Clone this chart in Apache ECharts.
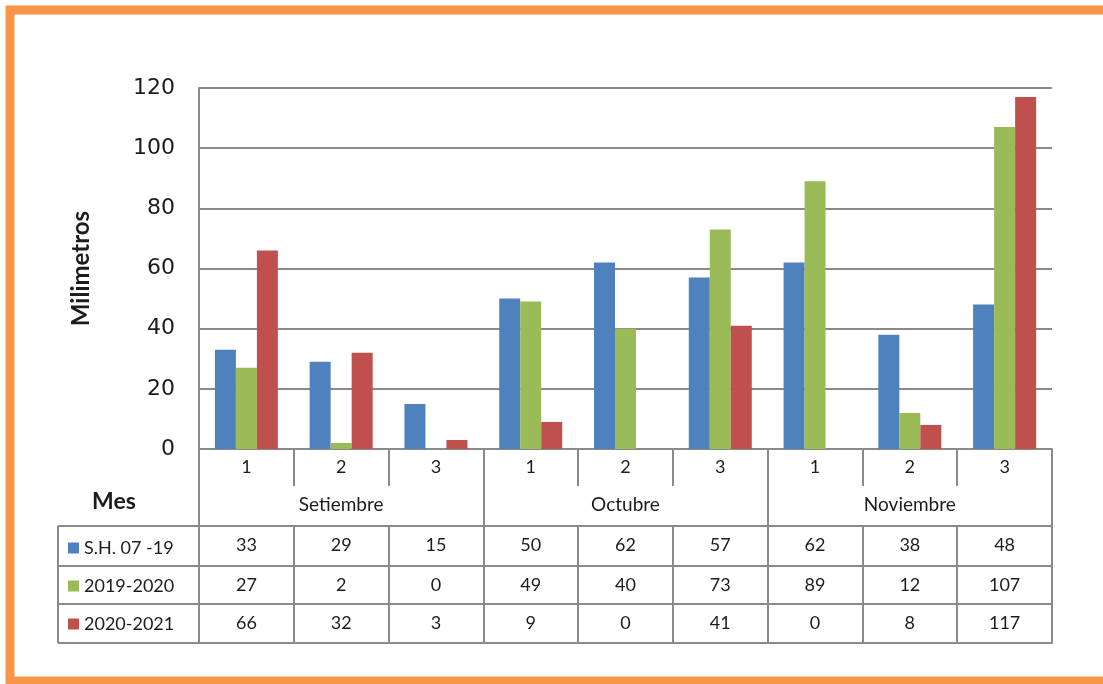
<!DOCTYPE html>
<html>
<head>
<meta charset="utf-8">
<script src="https://cdn.jsdelivr.net/npm/echarts@6/dist/echarts.min.js"></script>
<style>
html,body{margin:0;padding:0;background:#fff}
#main{width:1103px;height:684px}
</style>
</head>
<body>
<div id="main"></div>
<script>
// datos
var semanas=['1','2','3','1','2','3','1','2','3'];
var meses=['Setiembre','Octubre','Noviembre'];
var nombres=['S.H. 07 -19','2019-2020','2020-2021'];
var serieSH=[33,29,15,50,62,57,62,38,48];
var serie2019=[27,2,0,49,40,73,89,12,107];
var serie2020=[66,32,3,9,0,41,0,8,117];
var ticksY=[0,20,40,60,80,100,120];

var colores=['#4F81BD','#9BBB59','#C0504D'];
var filas=[serieSH,serie2019,serie2020];
var lineaGris='#8a8a8a';
var texto='#1c1c1c';

// tabla bajo el eje: cada fila es un eje x con offset
var gridLeft=199, gridRight=51, gridTop=88, gridBottom=235;
var yEje=684-gridBottom;
var offsets=[77,117,155,194];

function ejeTabla(off,tickLen,fila,margen){
    return {
        type:'category',data:semanas,position:'bottom',offset:off,
        axisLine:{show:true,lineStyle:{color:lineaGris,width:2}},
        axisTick:{show:tickLen>0,length:tickLen,interval:0,lineStyle:{color:lineaGris,width:2}},
        axisLabel:{show:!!fila,interval:0,margin:margen,color:texto,fontSize:18,fontFamily:'Lato',
            formatter:function(v,i){return fila?String(fila[i]):'';}},
        splitLine:{show:false}
    };
}

var xAxes=[
    {
        type:'category',data:semanas,position:'bottom',
        axisLine:{show:true,lineStyle:{color:lineaGris,width:2}},
        axisTick:{show:true,length:37,interval:0,lineStyle:{color:lineaGris,width:2}},
        axisLabel:{interval:0,margin:9,color:texto,fontSize:18,fontFamily:'Lato'}
    },
    {
        type:'category',data:semanas,position:'bottom',
        axisLine:{show:false},
        axisTick:{show:true,length:77,lineStyle:{color:lineaGris,width:2},
            interval:function(i){return i%3===0;}},
        axisLabel:{margin:46,color:texto,fontSize:19,fontFamily:'Lato',
            interval:function(i){return i%3===1;},
            formatter:function(v,i){return meses[Math.floor(i/3)];}}
    },
    ejeTabla(offsets[0],40,filas[0],10),
    ejeTabla(offsets[1],38,filas[1],10),
    ejeTabla(offsets[2],39,filas[2],10),
    ejeTabla(offsets[3],0,null,10)
];

var series=[];
for(var k=0;k<3;k++){
    series.push({
        name:nombres[k],type:'bar',data:filas[k],xAxisIndex:0,
        barWidth:21,barGap:'0%',
        itemStyle:{color:colores[k]}
    });
}

// lineas de la columna de leyenda
var izq=58;
var graficos=[{
    type:'rect',shape:{x:10,y:10,width:1100,height:671},
    style:{fill:'none',stroke:'#F79646',lineWidth:9},silent:true
},{
    type:'line',shape:{x1:izq,y1:yEje+offsets[0],x2:izq,y2:yEje+offsets[3]},
    style:{stroke:lineaGris,lineWidth:2}
},{
    type:'text',x:114,y:502,
    style:{text:'Mes',fill:texto,font:'bold 23px Lato',textAlign:'center',textVerticalAlign:'middle'}
}];
offsets.forEach(function(o){
    graficos.push({type:'line',shape:{x1:izq,y1:yEje+o,x2:gridLeft,y2:yEje+o},
        style:{stroke:lineaGris,lineWidth:2}});
});

var myChart=echarts.init(document.getElementById('main'));
var option={
    animation:false,
    backgroundColor:'#fff',
    grid:{left:gridLeft,right:gridRight,top:gridTop,bottom:gridBottom,containLabel:false},
    legend:{
        orient:'vertical',left:63,top:534,
        itemWidth:11,itemHeight:11,itemGap:20,
        icon:'rect',selectedMode:false,
        textStyle:{color:texto,fontSize:18,fontFamily:'Lato',lineHeight:18},
        data:nombres
    },
    xAxis:xAxes,
    yAxis:{
        type:'value',min:ticksY[0],max:ticksY[ticksY.length-1],interval:20,
        name:'Milimetros',nameLocation:'middle',nameGap:106,
        nameTextStyle:{color:texto,fontSize:24,fontWeight:'bold',fontFamily:'Lato'},
        axisLine:{show:true,lineStyle:{color:lineaGris,width:2}},
        axisTick:{show:false},
        axisLabel:{margin:24,color:texto,fontSize:22,fontFamily:'DejaVu Sans'},
        splitLine:{lineStyle:{color:lineaGris,width:2}}
    },
    graphic:graficos,
    series:series
};
myChart.setOption(option);
</script>
</body>
</html>
